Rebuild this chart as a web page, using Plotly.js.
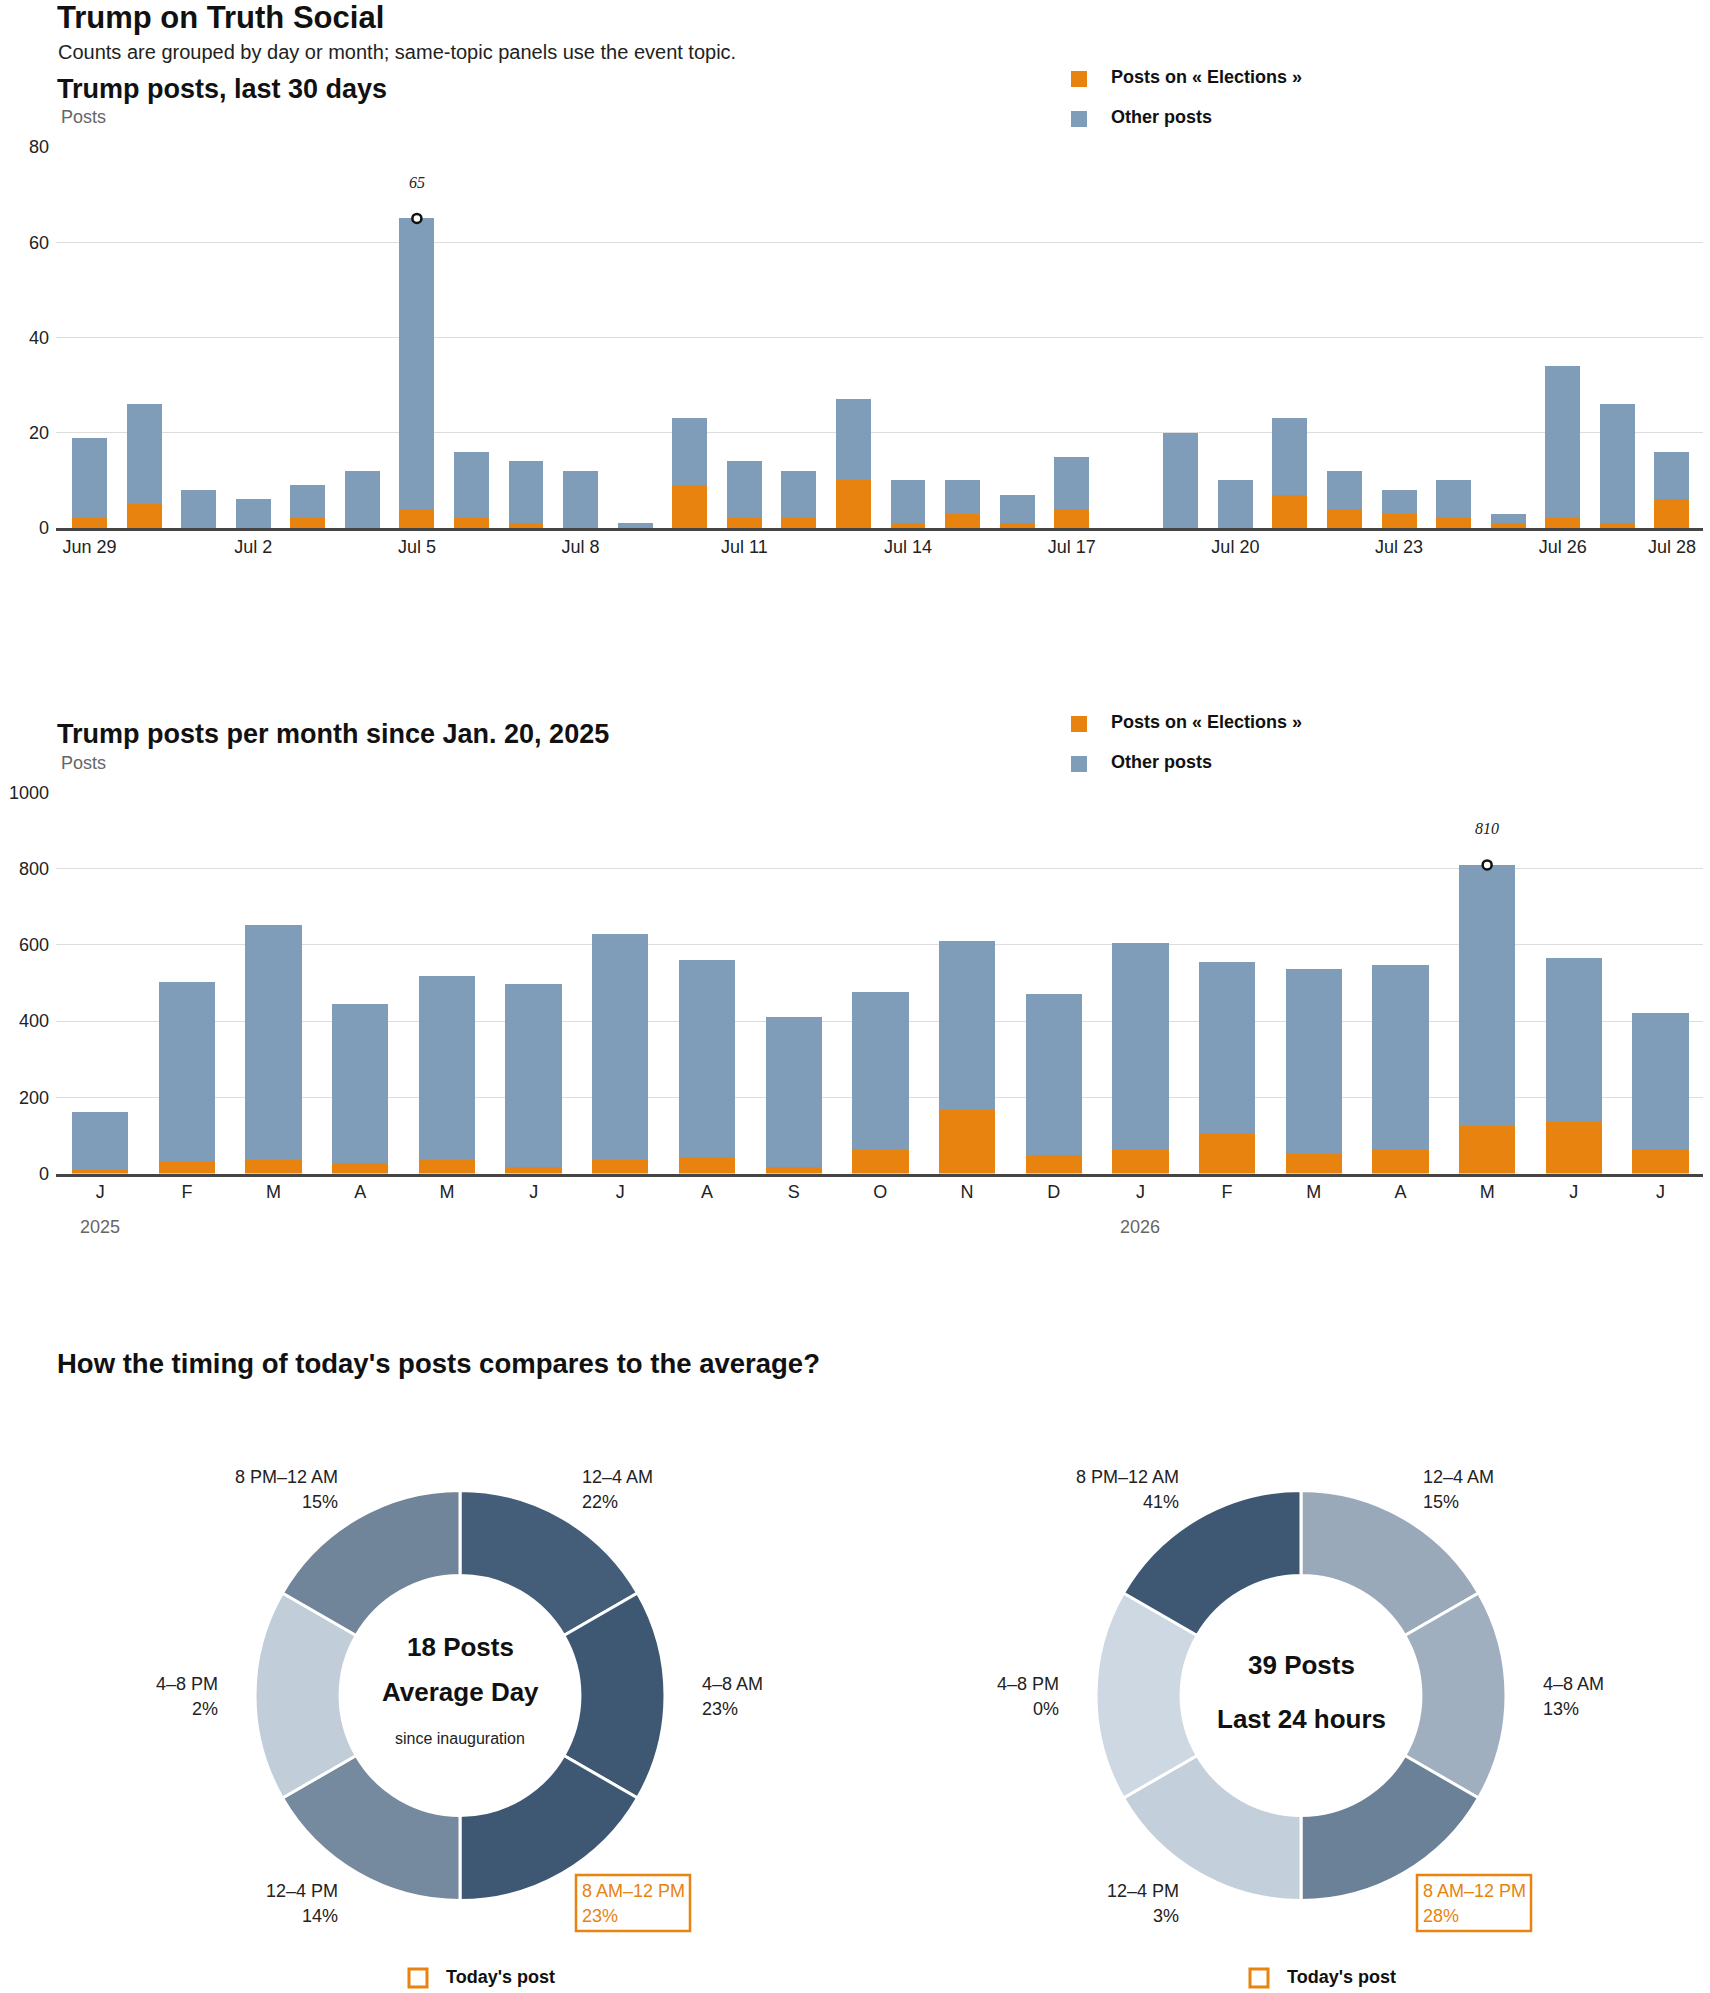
<!DOCTYPE html>
<html><head><meta charset="utf-8">
<script src="https://cdn.plot.ly/plotly-3.0.1.min.js"></script>
<style>html,body{margin:0;padding:0;background:#fff}#chart{width:1710px;height:1993px}</style>
</head><body><div id="chart"></div>
<script>
// ---------- DATA ----------
const days = ['Jun 29','Jun 30','Jul 1','Jul 2','Jul 3','Jul 4','Jul 5','Jul 6','Jul 7','Jul 8','Jul 9','Jul 10','Jul 11','Jul 12','Jul 13','Jul 14','Jul 15','Jul 16','Jul 17','Jul 18','Jul 19','Jul 20','Jul 21','Jul 22','Jul 23','Jul 24','Jul 25','Jul 26','Jul 27','Jul 28'];
const dayTickLabels = ['Jun 29','Jul 2','Jul 5','Jul 8','Jul 11','Jul 14','Jul 17','Jul 20','Jul 23','Jul 26','Jul 28'];
const dailyElections = [2,5,0,0,2,0,4,2,1,0,0,9,2,2,10,1,3,1,4,0,0,0,7,4,3,2,1,2,1,6];
const dailyOther     = [17,21,8,6,7,12,61,14,13,12,1,14,12,10,17,9,7,6,11,0,20,10,16,8,5,8,2,32,25,10];

const months = ['2025-01','2025-02','2025-03','2025-04','2025-05','2025-06','2025-07','2025-08','2025-09','2025-10','2025-11','2025-12','2026-01','2026-02','2026-03','2026-04','2026-05','2026-06','2026-07'];
const monthTickLabels = ['J','F','M','A','M','J','J','A','S','O','N','D','J','F','M','A','M','J','J'];
const yearLabels = ['2025','2026'];
const yearLabelMonths = ['2025-01','2026-01'];
const monthlyElections = [10,33,37,29,37,18,37,44,18,63,168,50,63,108,52,63,125,138,65];
const monthlyOther     = [154,470,617,417,482,481,593,517,393,414,443,422,544,448,486,485,685,429,358];

const seriesNames = ['Posts on « Elections »','Other posts'];

const timeSlots = ['12–4 AM','4–8 AM','8 AM–12 PM','12–4 PM','4–8 PM','8 PM–12 AM'];
const slotHours = [4,4,4,4,4,4];
const averageSharePct = [22,23,23,14,2,15];
const last24SharePct = [15,13,28,3,0,41];
const averagePostsPerDay = 18;
const last24Posts = 39;
const todaySlot = '8 AM–12 PM';

// ---------- STYLE / LAYOUT HELPERS ----------
const W = 1710, H = 1993;
const px = x => x / W;
const py = y => 1 - y / H;
const FONT = 'Liberation Sans, Arial, sans-serif';
const ORANGE = '#e8830f', BLUE = '#7f9cb8', INK = '#222';

function totals(a, b){ return a.map((v,i)=>v+b[i]); }
function peakIndex(arr){ let m=0; arr.forEach((v,i)=>{ if(v>arr[m]) m=i; }); return m; }
function shade(p, max){
  const t = max ? p/max : 0;
  const L=[205,216,226], D=[62,88,116];
  const c = L.map((l,i)=>Math.round(l+(D[i]-l)*t));
  return 'rgb('+c.join(',')+')';
}

const dailyTotal = totals(dailyElections, dailyOther);
const monthlyTotal = totals(monthlyElections, monthlyOther);
const dPeak = peakIndex(dailyTotal), mPeak = peakIndex(monthlyTotal);

const traces = [
  {type:'bar', x:days, y:dailyElections, name:seriesNames[0], marker:{color:ORANGE}, width:0.64, xaxis:'x', yaxis:'y', showlegend:false},
  {type:'bar', x:days, y:dailyOther, name:seriesNames[1], marker:{color:BLUE}, width:0.64, xaxis:'x', yaxis:'y', showlegend:false},
  {type:'scatter', mode:'markers', x:[days[dPeak]], y:[dailyTotal[dPeak]], xaxis:'x', yaxis:'y', showlegend:false,
   marker:{symbol:'circle', size:9, color:'white', line:{color:'#111', width:2.5}}, cliponaxis:false},
  {type:'bar', x:months, y:monthlyElections, name:seriesNames[0], marker:{color:ORANGE}, width:0.65, xaxis:'x2', yaxis:'y2', showlegend:false},
  {type:'bar', x:months, y:monthlyOther, name:seriesNames[1], marker:{color:BLUE}, width:0.65, xaxis:'x2', yaxis:'y2', showlegend:false},
  {type:'scatter', mode:'markers', x:[months[mPeak]], y:[monthlyTotal[mPeak]], xaxis:'x2', yaxis:'y2', showlegend:false,
   marker:{symbol:'circle', size:9, color:'white', line:{color:'#111', width:2.5}}, cliponaxis:false}
];

// donuts
const donutCenters = [460, 1301];
const donutCY = 1695.5, donutR = 205;
[averageSharePct, last24SharePct].forEach((pct, k)=>{
  const mx = Math.max(...pct);
  const cx = donutCenters[k];
  traces.push({
    type:'pie', values:slotHours, labels:timeSlots, sort:false, direction:'clockwise', rotation:0,
    hole:0.585, textinfo:'none', hoverinfo:'label', showlegend:false,
    marker:{colors:pct.map(p=>shade(p,mx)), line:{color:'white', width:3}},
    domain:{x:[px(cx-donutR), px(cx+donutR)], y:[py(donutCY+donutR), py(donutCY-donutR)]}
  });
});

const ann = [];
const shapes = [];
function txt(x, y, text, o){
  ann.push(Object.assign({xref:'paper', yref:'paper', x:px(x), y:py(y), text:text, showarrow:false,
    xanchor:'left', yanchor:'middle', font:{family:FONT, size:18, color:INK}}, o||{}));
}
// titles
txt(55, 17, 'Trump on Truth Social', {font:{family:FONT, size:31, color:'#111', weight:700}});
txt(56, 52, 'Counts are grouped by day or month; same-topic panels use the event topic.', {font:{family:FONT, size:20, color:INK}});
txt(55, 89, 'Trump posts, last 30 days', {font:{family:FONT, size:27, color:'#111', weight:700}});
txt(59, 117, 'Posts', {font:{family:FONT, size:18, color:'#666'}});
txt(55, 734, 'Trump posts per month since Jan. 20, 2025', {font:{family:FONT, size:27, color:'#111', weight:700}});
txt(59, 763, 'Posts', {font:{family:FONT, size:18, color:'#666'}});
txt(55, 1363, "How the timing of today's posts compares to the average?", {font:{family:FONT, size:27.5, color:'#111', weight:700}});

// legends for bar charts
[[79,119],[724,764]].forEach(ys=>{
  [ORANGE, BLUE].forEach((c,i)=>{
    shapes.push({type:'rect', xref:'paper', yref:'paper', x0:px(1071), x1:px(1087), y0:py(ys[i]-8), y1:py(ys[i]+8), fillcolor:c, line:{width:0}});
    txt(1109, ys[i]-2, seriesNames[i], {font:{family:FONT, size:18, color:'#111', weight:700}});
  });
});

// peak labels
ann.push({xref:'x', yref:'y', x:days[dPeak], y:dailyTotal[dPeak], yshift:36, text:String(dailyTotal[dPeak]), showarrow:false,
  font:{family:'Liberation Serif, serif', size:16, color:INK, style:'italic'}});
ann.push({xref:'x2', yref:'y2', x:months[mPeak], y:monthlyTotal[mPeak], yshift:36, text:String(monthlyTotal[mPeak]), showarrow:false,
  font:{family:'Liberation Serif, serif', size:16, color:INK, style:'italic'}});

// year labels
yearLabels.forEach((yl,i)=>{
  ann.push({xref:'x2', yref:'paper', x:yearLabelMonths[i], y:py(1227), text:yl, showarrow:false, xanchor:'center', yanchor:'middle',
    font:{family:FONT, size:18, color:'#666'}});
});

// donut labels
const slotPos = [[120,'left',1477],[240,'left',1684],[120,'left',1891],[-120,'right',1891],[-240,'right',1684],[-120,'right',1477]];
[averageSharePct, last24SharePct].forEach((pct,k)=>{
  const cx = donutCenters[k];
  timeSlots.forEach((s,i)=>{
    const [dx, anc, y1] = slotPos[i];
    const hi = s === todaySlot;
    const col = hi ? ORANGE : INK;
    txt(cx+dx, y1, s, {xanchor:anc, font:{family:FONT, size:18, color:col}});
    txt(cx+dx, y1+24.6, pct[i]+'%', {xanchor:anc, font:{family:FONT, size:18, color:col}});
    if(hi){
      const x0 = anc==='left' ? cx+dx-4 : cx+dx-110;
      shapes.push({type:'rect', xref:'paper', yref:'paper', x0:px(x0), x1:px(x0+114), y0:py(1931), y1:py(1875), line:{color:ORANGE, width:2.5}, fillcolor:'rgba(0,0,0,0)'});
    }
  });
  // today's post legend
  const lx = cx - 42;
  shapes.push({type:'rect', xref:'paper', yref:'paper', x0:px(lx-9), x1:px(lx+9), y0:py(1987), y1:py(1969), line:{color:ORANGE, width:3}, fillcolor:'rgba(0,0,0,0)'});
  txt(lx+26, 1977, "Today's post", {font:{family:FONT, size:18, color:'#111', weight:700}});
});
// donut centre texts
txt(donutCenters[0], 1647, averagePostsPerDay+' Posts', {xanchor:'center', font:{family:FONT, size:26, color:'#111', weight:700}});
txt(donutCenters[0], 1692, 'Average Day', {xanchor:'center', font:{family:FONT, size:26, color:'#111', weight:700}});
txt(donutCenters[0], 1738, 'since inauguration', {xanchor:'center', font:{family:FONT, size:16, color:INK}});
txt(donutCenters[1], 1665, last24Posts+' Posts', {xanchor:'center', font:{family:FONT, size:26, color:'#111', weight:700}});
txt(donutCenters[1], 1719, 'Last 24 hours', {xanchor:'center', font:{family:FONT, size:26, color:'#111', weight:700}});

const yAxisBase = {showgrid:true, gridcolor:'#dddddd', gridwidth:1, zeroline:false, showline:false, ticks:'',
  ticklabelstandoff:6, tickfont:{family:FONT, size:18, color:INK}, fixedrange:true};
const xAxisBase = {type:'category', showgrid:false, zeroline:false, showline:true, linecolor:'#444', linewidth:3, ticks:'',
  tickfont:{family:FONT, size:18, color:INK}, fixedrange:true};

const layout = {
  width:W, height:H, margin:{l:0,r:0,t:0,b:0}, paper_bgcolor:'#fff', plot_bgcolor:'#fff',
  barmode:'stack', bargap:0, showlegend:false, hovermode:false,
  font:{family:FONT, color:INK},
  xaxis:Object.assign({}, xAxisBase, {domain:[px(56), px(1703)], anchor:'y', range:[-0.614, 29.57],
    tickvals:dayTickLabels, ticktext:dayTickLabels, categoryorder:'array', categoryarray:days}),
  yaxis:Object.assign({}, yAxisBase, {domain:[py(528), py(147)], anchor:'x', range:[0,80], tickvals:[0,20,40,60,80]}),
  xaxis2:Object.assign({}, xAxisBase, {domain:[px(56), px(1703)], anchor:'y2', range:[-0.51, 18.49],
    tickvals:months, ticktext:monthTickLabels, categoryorder:'array', categoryarray:months}),
  yaxis2:Object.assign({}, yAxisBase, {domain:[py(1173.6), py(792.5)], anchor:'x2', range:[0,1000], tickvals:[0,200,400,600,800,1000]}),
  annotations:ann, shapes:shapes
};

Plotly.newPlot('chart', traces, layout, {displayModeBar:false, responsive:false});
</script></body></html>
